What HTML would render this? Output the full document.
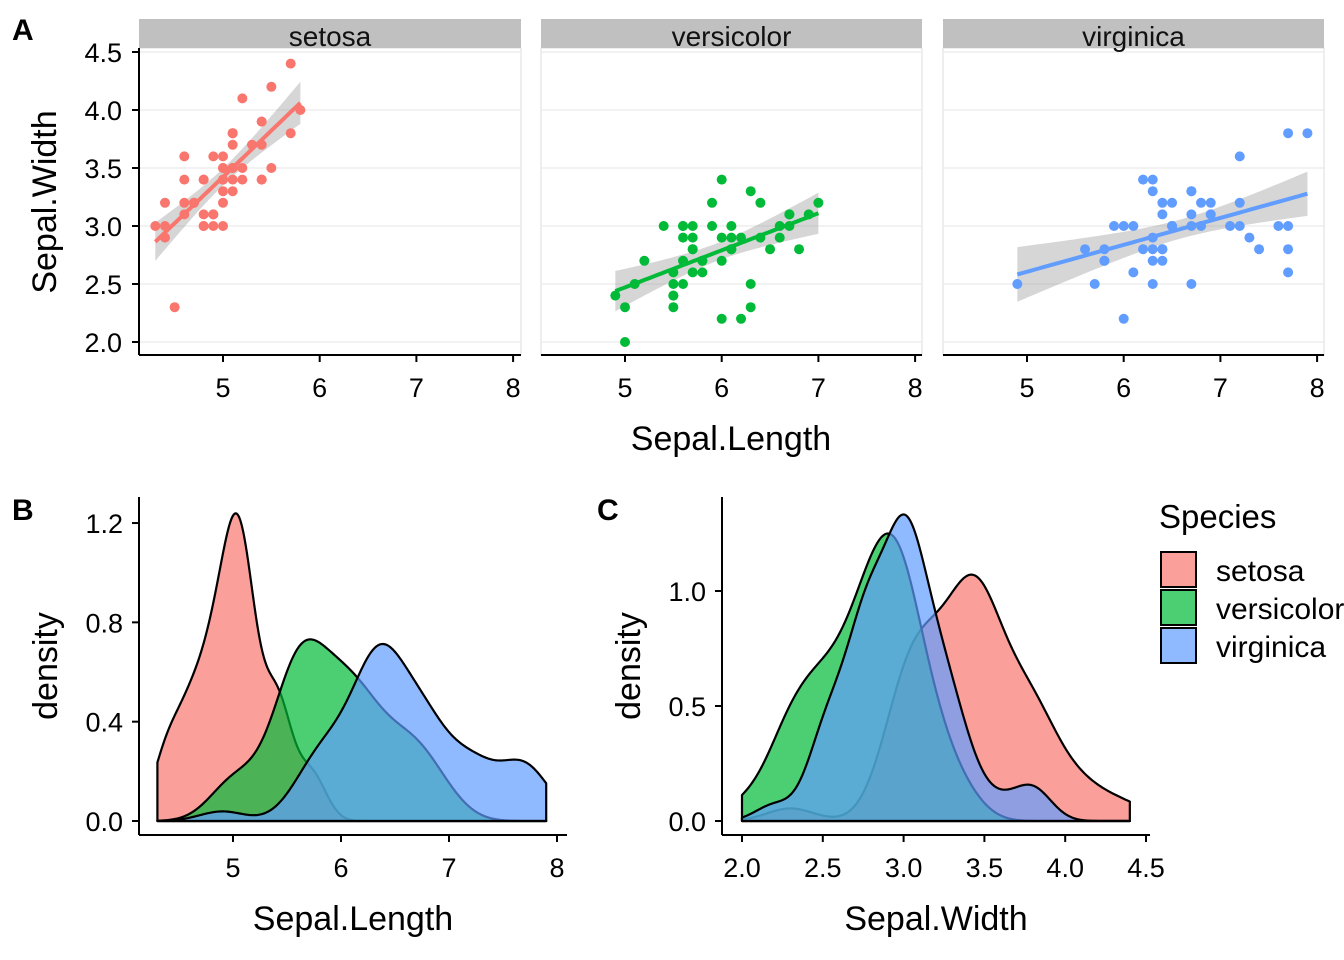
<!DOCTYPE html>
<html><head><meta charset="utf-8"><style>
html,body{margin:0;padding:0;background:#fff}
svg{display:block;font-family:"Liberation Sans",Arial,sans-serif}
</style></head><body>
<svg id="c" width="1344" height="960" viewBox="0 0 1344 960"></svg>
<script>
const species=["setosa","versicolor","virginica"];
const colors=["#F8766D","#00BA38","#619CFF"];
const sepalLengthSetosa=[5.1,4.9,4.7,4.6,5.0,5.4,4.6,5.0,4.4,4.9,5.4,4.8,4.8,4.3,5.8,5.7,5.4,5.1,5.7,5.1,5.4,5.1,4.6,5.1,4.8,5.0,5.0,5.2,5.2,4.7,4.8,5.4,5.2,5.5,4.9,5.0,5.5,4.9,4.4,5.1,5.0,4.5,4.4,5.0,5.1,4.8,5.1,4.6,5.3,5.0];
const sepalWidthSetosa=[3.5,3.0,3.2,3.1,3.6,3.9,3.4,3.4,2.9,3.1,3.7,3.4,3.0,3.0,4.0,4.4,3.9,3.5,3.8,3.8,3.4,3.7,3.6,3.3,3.4,3.0,3.4,3.5,3.4,3.2,3.1,3.4,4.1,4.2,3.1,3.2,3.5,3.6,3.0,3.4,3.5,2.3,3.2,3.5,3.8,3.0,3.8,3.2,3.7,3.3];
const sepalLengthVersicolor=[7.0,6.4,6.9,5.5,6.5,5.7,6.3,4.9,6.6,5.2,5.0,5.9,6.0,6.1,5.6,6.7,5.6,5.8,6.2,5.6,5.9,6.1,6.3,6.1,6.4,6.6,6.8,6.7,6.0,5.7,5.5,5.5,5.8,6.0,5.4,6.0,6.7,6.3,5.6,5.5,5.5,6.1,5.8,5.0,5.6,5.7,5.7,6.2,5.1,5.7];
const sepalWidthVersicolor=[3.2,3.2,3.1,2.3,2.8,2.8,3.3,2.4,2.9,2.7,2.0,3.0,2.2,2.9,2.9,3.1,3.0,2.7,2.2,2.5,3.2,2.8,2.5,2.8,2.9,3.0,2.8,3.0,2.9,2.6,2.4,2.4,2.7,2.7,3.0,3.4,3.1,2.3,3.0,2.5,2.6,3.0,2.6,2.3,2.7,3.0,2.9,2.9,2.5,2.8];
const sepalLengthVirginica=[6.3,5.8,7.1,6.3,6.5,7.6,4.9,7.3,6.7,7.2,6.5,6.4,6.8,5.7,5.8,6.4,6.5,7.7,7.7,6.0,6.9,5.6,7.7,6.3,6.7,7.2,6.2,6.1,6.4,7.2,7.4,7.9,6.4,6.3,6.1,7.7,6.3,6.4,6.0,6.9,6.7,6.9,5.8,6.8,6.7,6.7,6.3,6.5,6.2,5.9];
const sepalWidthVirginica=[3.3,2.7,3.0,2.9,3.0,3.0,2.5,2.9,2.5,3.6,3.2,2.7,3.0,2.5,2.8,3.2,3.0,3.8,2.6,2.2,3.2,2.8,2.8,2.7,3.3,3.2,2.8,3.0,2.8,3.0,2.8,3.8,2.8,2.8,2.6,3.0,3.4,3.1,3.0,3.1,3.1,3.1,2.7,3.2,3.3,3.0,2.5,3.0,3.4,3.0];
const SL=[sepalLengthSetosa,sepalLengthVersicolor,sepalLengthVirginica];
const SW=[sepalWidthSetosa,sepalWidthVersicolor,sepalWidthVirginica];
const xTicksA=[5,6,7,8], yTicksA=[2.0,2.5,3.0,3.5,4.0,4.5];
const xTicksB=[5,6,7,8], yTicksB=[0.0,0.4,0.8,1.2];
const xTicksC=[2.0,2.5,3.0,3.5,4.0,4.5], yTicksC=[0.0,0.5,1.0];

const svg=document.getElementById('c');const NS="http://www.w3.org/2000/svg";
function el(tag,attrs,parent,text){const e=document.createElementNS(NS,tag);for(const k in attrs)e.setAttribute(k,attrs[k]);if(text!==undefined)e.textContent=text;(parent||svg).appendChild(e);return e;}
function fmt(v,d){return v.toFixed(d);}

const panelsA=[{x0:139,x1:521,t5:223},{x0:541,x1:922,t5:625},{x0:943,x1:1324,t5:1027}];
const pxA=96.7, yA=v=>342-(v-2.0)*116;
panelsA.forEach((p,i)=>{
  const g=el('g',{},svg);
  const xs=v=>p.t5+(v-5)*pxA;
  el('rect',{x:p.x0,y:48,width:p.x1-p.x0,height:307,fill:'#fff',stroke:'#dcdcdc','stroke-width':1},g);
  yTicksA.forEach(t=>{const l=el('line',{x1:p.x0,x2:p.x1,y1:yA(t),y2:yA(t),stroke:'#ebebeb','stroke-width':1.2},g);});
  const st=el('rect',{x:p.x0,y:19,width:p.x1-p.x0,height:29,fill:'#c0c0c0'},g);
  const stt=el('text',{x:(p.x0+p.x1)/2,y:46,'font-size':28,'text-anchor':'middle',fill:'#111'},g,species[i]);
  const x=SL[i],y=SW[i],n=x.length;const mx=x.reduce((a,b)=>a+b)/n,my=y.reduce((a,b)=>a+b)/n;
  let sxx=0,sxy=0;for(let k=0;k<n;k++){sxx+=(x[k]-mx)**2;sxy+=(x[k]-mx)*(y[k]-my);}
  const b=sxy/sxx,a=my-b*mx;let sse=0;for(let k=0;k<n;k++)sse+=(y[k]-a-b*x[k])**2;const s=Math.sqrt(sse/(n-2));
  const xmin=Math.min(...x),xmax=Math.max(...x);const up=[],lo=[],ln=[];
  for(let k=0;k<=80;k++){const xv=xmin+(xmax-xmin)*k/80;const f=a+b*xv;const se=s*Math.sqrt(1/n+(xv-mx)**2/sxx)*2.0106;
    up.push(xs(xv)+','+yA(f+se));lo.unshift(xs(xv)+','+yA(f-se));ln.push(xs(xv)+','+yA(f));}
  const band=el('polygon',{points:up.concat(lo).join(' '),fill:'#999',opacity:0.4},g);
  for(let k=0;k<n;k++){const c=el('circle',{cx:xs(x[k]),cy:yA(y[k]),r:5,fill:colors[i]},g);}
  const rl=el('polyline',{points:ln.join(' '),fill:'none',stroke:colors[i],'stroke-width':4},g);
  el('line',{x1:p.x0,x2:p.x1,y1:355,y2:355,stroke:'#000','stroke-width':2},g);
  xTicksA.forEach(t=>{el('line',{x1:xs(t),x2:xs(t),y1:355,y2:362,stroke:'#000','stroke-width':2},g);const tl=el('text',{x:xs(t),y:397,'font-size':27,'text-anchor':'middle'},g,t);});
  if(i===0){el('line',{x1:139,x2:139,y1:48,y2:355,stroke:'#000','stroke-width':2},g);
    yTicksA.forEach(t=>{el('line',{x1:132,x2:139,y1:yA(t),y2:yA(t),stroke:'#000','stroke-width':2},g);const tl=el('text',{x:122,y:yA(t)+10,'font-size':27,'text-anchor':'end'},g,fmt(t,1));});}
});
let t;
t=el('text',{x:731,y:450,'font-size':34,'text-anchor':'middle'},svg,'Sepal.Length');
t=el('text',{x:56,y:202,'font-size':34,'text-anchor':'middle',transform:'rotate(-90 56 202)'},svg,'Sepal.Width');

function quant(arr,p){const s=[...arr].sort((a,b)=>a-b);const h=(s.length-1)*p,lo=Math.floor(h);return s[lo]+(s[Math.min(lo+1,s.length-1)]-s[lo])*(h-lo);}
function kde(data,lo,hi){const n=data.length,m=data.reduce((a,b)=>a+b)/n;const sd=Math.sqrt(data.reduce((a,b)=>a+(b-m)**2,0)/(n-1));
  const iqr=quant(data,0.75)-quant(data,0.25);const bw=0.9*Math.min(sd,iqr/1.34)*Math.pow(n,-0.2);const out=[];
  for(let k=0;k<=300;k++){const xv=lo+(hi-lo)*k/300;let d=0;for(const v of data)d+=Math.exp(-0.5*((xv-v)/bw)**2);out.push([xv,d/(n*bw*Math.sqrt(2*Math.PI))]);}return out;}
function densPanel(name,vals,lo,hi,xs,ys,xticks,yticks,dec,xd,ax0,ax1,title,tx){
  const g=el('g',{},svg);
  vals.forEach((v,i)=>{const d=kde(v,lo,hi);const pts=d.map(q=>xs(q[0])+','+ys(q[1]));pts.unshift(xs(lo)+','+ys(0));pts.push(xs(hi)+','+ys(0));
    const pg=el('polygon',{points:pts.join(' '),fill:colors[i],'fill-opacity':0.7,stroke:'#000','stroke-width':2.2,'stroke-linejoin':'round'},g);});
  el('line',{x1:ax0,x2:ax0,y1:497,y2:835,stroke:'#000','stroke-width':2},g);
  el('line',{x1:ax0,x2:ax1,y1:835,y2:835,stroke:'#000','stroke-width':2},g);
  xticks.forEach(tk=>{el('line',{x1:xs(tk),x2:xs(tk),y1:835,y2:842,stroke:'#000','stroke-width':2},g);const l=el('text',{x:xs(tk),y:877,'font-size':27,'text-anchor':'middle'},g,fmt(tk,xd));});
  yticks.forEach(tk=>{el('line',{x1:ax0-7,x2:ax0,y1:ys(tk),y2:ys(tk),stroke:'#000','stroke-width':2},g);const l=el('text',{x:ax0-16,y:ys(tk)+10,'font-size':27,'text-anchor':'end'},g,fmt(tk,dec));});
  let a=el('text',{x:(ax0+ax1)/2,y:930,'font-size':34,'text-anchor':'middle'},g,title);
  a=el('text',{x:tx,y:666,'font-size':34,'text-anchor':'middle',transform:'rotate(-90 '+tx+' 666)'},g,'density');
}
densPanel('density-sepal-length',SL,4.3,7.9,v=>233+(v-5)*108,v=>821-v*248.3,xTicksB,yTicksB,1,0,139,567,'Sepal.Length',57);
densPanel('density-sepal-width',SW,2.0,4.4,v=>742+(v-2)*161.6,v=>821-v*230,xTicksC,yTicksC,1,1,722,1150,'Sepal.Width',640);

[['A',12,40],['B',12,520],['C',597,520]].forEach(q=>{const l=el('text',{x:q[1],y:q[2],'font-size':30,'font-weight':'bold'},svg,q[0]);});
const lg=el('g',{},svg);
t=el('text',{x:1159,y:528,'font-size':33},lg,'Species');
species.forEach((s,i)=>{const y=552+i*38;const r=el('rect',{x:1161,y:y,width:35,height:35,fill:colors[i],'fill-opacity':0.7,stroke:'#000','stroke-width':2},lg);
  const tx=el('text',{x:1216,y:y+29,'font-size':30},lg,s);});
</script>
</body></html>
